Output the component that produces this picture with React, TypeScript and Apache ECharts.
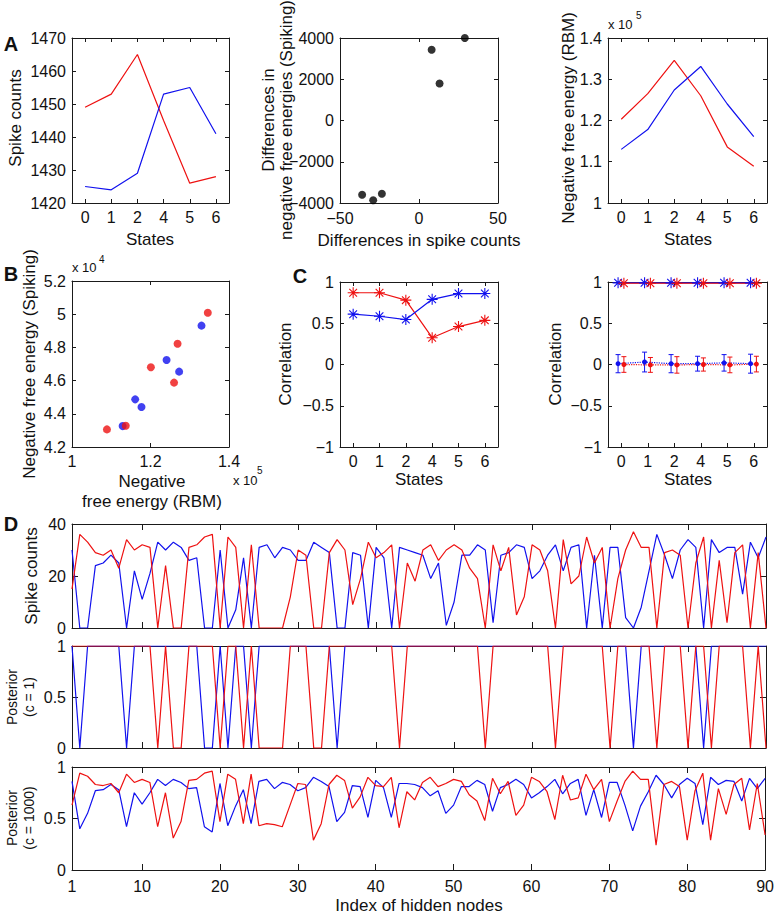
import React, { useEffect, useRef } from 'react';
import * as echarts from 'echarts';

const FONT = '"Liberation Sans", Arial, Helvetica, sans-serif';
const RED = '#ee1111';
const BLUE = '#1111ee';
const AXIS = '#1a1a1a';
const TEXT = '#111111';

// ---------- data ----------
const stateLabels = ['0', '1', '2', '4', '5', '6'];
const stateTicks = [0, 1, 2, 3, 4, 5];
const indexTicks = [1, 10, 20, 30, 40, 50, 60, 70, 80, 90];
const diffTicks = [-50, 0, 50];

// A1: spike counts per state
const a1Red = [1449, 1453, 1465, 1445, 1426, 1428];
const a1Blue = [1425, 1424, 1429, 1453, 1455, 1441];
// A2: differences
const a2X = [-36, -29, -23.5, 8, 13, 29];
const a2Y = [-3600, -3870, -3550, 3430, 1790, 4000];
// A3: negative free energy (RBM), x 10^5
const a3Red = [1.203, 1.265, 1.346, 1.26, 1.136, 1.089];
const a3Blue = [1.13, 1.178, 1.274, 1.331, 1.24, 1.161];
// B: RBM (x10^5) vs spiking (x10^4)
const bRedX = [1.089, 1.137, 1.201, 1.26, 1.269, 1.346];
const bRedY = [4.306, 4.328, 4.68, 4.588, 4.822, 5.009];
const bBlueX = [1.129, 1.161, 1.177, 1.241, 1.273, 1.33];
const bBlueY = [4.326, 4.487, 4.441, 4.724, 4.654, 4.931];
// C1: correlation
const c1Red = [0.87, 0.87, 0.78, 0.325, 0.46, 0.535];
const c1Blue = [0.61, 0.585, 0.545, 0.79, 0.86, 0.86];
// C2
const c2BlueStar = [0.99, 0.99, 0.99, 0.99, 0.99, 0.99];
const c2RedStar = [0.985, 0.985, 0.985, 0.985, 0.985, 0.985];
const c2BlueMean = [0.01, 0.03, 0.01, 0.01, 0.02, 0.01];
const c2BlueErr = [0.11, 0.12, 0.11, 0.09, 0.1, 0.115];
const c2RedMean = [0.0, -0.005, -0.005, 0.0, -0.005, 0.005];
const c2RedErr = [0.095, 0.09, 0.1, 0.08, 0.095, 0.095];

// D1: spike counts per hidden node
const d1Red = [
  15, 36, 33, 29, 28, 30, 23, 34, 30, 32,
  31, 0, 24, 0, 0, 31, 32, 35, 36, 0,
  35, 31, 0, 32, 0, 0, 0, 0, 12, 30,
  28, 0, 0, 29, 34, 30, 9, 19, 33, 27,
  29, 32, 0, 25, 18, 30, 32, 26, 30, 32,
  30, 23, 19, 0, 32, 22, 31, 5, 12, 32,
  30, 22, 0, 34, 17, 20, 35, 25, 31, 0,
  19, 30, 37, 31, 31, 0, 29, 30, 28, 0,
  25, 35, 0, 26, 2, 29, 32, 0, 29, 0,
];
const d1Blue = [
  30, 0, 0, 24, 25, 28, 25, 0, 22, 11,
  21, 33, 30, 33, 31, 26, 27, 0, 0, 30,
  0, 7, 27, 0, 31, 32, 27, 31, 30, 26,
  26, 33, 31, 29, 0, 0, 29, 28, 0, 31,
  27, 0, 31, 30, 29, 28, 19, 25, 1, 10,
  28, 28, 32, 30, 2, 28, 29, 32, 31, 19,
  22, 28, 32, 22, 31, 32, 0, 28, 0, 31,
  31, 4, 0, 8, 22, 36, 28, 19, 30, 34,
  31, 0, 34, 29, 31, 31, 13, 33, 27, 35,
];
// D2: posterior c = 1
const d2Red = [
  1, 1, 1, 1, 1, 1, 1, 1, 1, 1,
  1, 0, 1, 0, 0, 1, 1, 1, 1, 0,
  1, 1, 0, 1, 0, 0, 0, 0, 1, 1,
  1, 0, 0, 1, 1, 1, 1, 1, 1, 1,
  1, 1, 0, 1, 1, 1, 1, 1, 1, 1,
  1, 1, 1, 0, 1, 1, 1, 1, 1, 1,
  1, 1, 0, 1, 1, 1, 1, 1, 1, 0,
  1, 1, 1, 1, 1, 0, 1, 1, 1, 0,
  1, 1, 0, 1, 1, 1, 1, 0, 1, 0,
];
const d2Blue = [
  1, 0, 1, 1, 1, 1, 1, 0, 1, 1,
  1, 1, 1, 1, 1, 1, 1, 0, 0, 1,
  0, 1, 1, 0, 1, 1, 1, 1, 1, 1,
  1, 1, 1, 1, 0, 1, 1, 1, 1, 1,
  1, 1, 1, 1, 1, 1, 1, 1, 1, 1,
  1, 1, 1, 1, 1, 1, 1, 1, 1, 1,
  1, 1, 1, 1, 1, 1, 1, 1, 1, 1,
  1, 1, 0, 1, 1, 1, 1, 1, 1, 1,
  1, 0, 1, 1, 1, 1, 1, 1, 1, 1,
];
// D3: posterior c = 1000
const d3Red = [
  0.63, 0.94, 0.91, 0.83, 0.82, 0.84, 0.75, 0.93, 0.85, 0.88,
  0.85, 0.42, 0.75, 0.31, 0.47, 0.87, 0.88, 0.94, 0.96, 0.47,
  0.93, 0.88, 0.45, 0.93, 0.43, 0.45, 0.44, 0.42, 0.63, 0.84,
  0.83, 0.29, 0.45, 0.83, 0.92, 0.87, 0.6, 0.71, 0.9, 0.82,
  0.81, 0.9, 0.41, 0.76, 0.68, 0.85, 0.9, 0.81, 0.84, 0.88,
  0.86, 0.73, 0.67, 0.48, 0.89, 0.74, 0.86, 0.53, 0.63, 0.9,
  0.86, 0.76, 0.49, 0.92, 0.68, 0.7, 0.93, 0.78, 0.88, 0.47,
  0.67, 0.86, 0.96, 0.88, 0.88, 0.24, 0.83, 0.86, 0.81, 0.29,
  0.77, 0.94, 0.29, 0.79, 0.54, 0.83, 0.89, 0.39, 0.84, 0.34,
];
const d3Blue = [
  0.86, 0.4, 0.55, 0.77, 0.78, 0.83, 0.78, 0.42, 0.75, 0.64,
  0.75, 0.88, 0.82, 0.88, 0.85, 0.79, 0.8, 0.42, 0.37, 0.84,
  0.43, 0.62, 0.78, 0.45, 0.86, 0.88, 0.79, 0.85, 0.83, 0.77,
  0.8, 0.9, 0.86, 0.81, 0.47, 0.56, 0.82, 0.81, 0.51, 0.87,
  0.8, 0.51, 0.84, 0.84, 0.83, 0.8, 0.72, 0.77, 0.55, 0.63,
  0.81, 0.81, 0.87, 0.83, 0.57, 0.8, 0.83, 0.88, 0.83, 0.7,
  0.75, 0.81, 0.88, 0.74, 0.84, 0.88, 0.53, 0.78, 0.51, 0.85,
  0.85, 0.63, 0.38, 0.62, 0.76, 0.92, 0.83, 0.7, 0.83, 0.89,
  0.84, 0.44, 0.9, 0.83, 0.87, 0.86, 0.67, 0.89, 0.79, 0.89,
];

// ---------- helpers ----------
const ASTERISK = 'path://M5 0L5 10M0 5L10 5M1.5 1.5L8.5 8.5M1.5 8.5L8.5 1.5';

function fmtNum(v: number) {
  const s = String(Number(Number(v).toFixed(4)));
  return s.replace('-', '\u2212');
}

type Spec = {
  min: number;
  max: number;
  interval?: number;
  custom?: number[];
  fmt?: (v: number) => string;
  labels?: boolean;
  tick?: number;
  fontSize?: number;
  margin?: number;
};

function buildOption() {
  const grids: any[] = [];
  const xAxes: any[] = [];
  const yAxes: any[] = [];
  const series: any[] = [];

  const axis = (gi: number, spec: Spec, position: string, primary: boolean) => ({
    type: 'value',
    gridIndex: gi,
    position,
    min: spec.min,
    max: spec.max,
    ...(spec.interval !== undefined ? { interval: spec.interval } : {}),
    axisLine: { show: true, onZero: false, lineStyle: { color: AXIS, width: 1 } },
    axisTick: {
      show: true,
      inside: true,
      length: spec.tick ?? 4,
      lineStyle: { color: AXIS, width: 1 },
      ...(spec.custom ? { customValues: spec.custom } : {}),
    },
    axisLabel: {
      show: primary && spec.labels !== false,
      showMinLabel: true,
      showMaxLabel: true,
      hideOverlap: false,
      margin: spec.margin ?? 6,
      fontSize: spec.fontSize ?? 16,
      fontFamily: FONT,
      color: TEXT,
      formatter: spec.fmt ?? fmtNum,
      ...(spec.custom ? { customValues: spec.custom } : {}),
    },
    splitLine: { show: false },
  });

  const panel = (box: number[], xs: Spec, ys: Spec) => {
    const gi = grids.length;
    grids.push({ left: box[0], top: box[1], width: box[2], height: box[3], containLabel: false });
    xAxes.push(axis(gi, xs, 'bottom', true), axis(gi, xs, 'top', false));
    yAxes.push(axis(gi, ys, 'left', true), axis(gi, ys, 'right', false));
    return 2 * gi;
  };

  const line = (ai: number, data: number[][], color: string, extra: any = {}) => ({
    type: 'line',
    xAxisIndex: ai,
    yAxisIndex: ai,
    data,
    symbol: 'none',
    silent: true,
    lineStyle: { color, width: 1.2 },
    itemStyle: { color },
    ...extra,
  });
  const scatter = (ai: number, data: number[][], color: string) => ({
    type: 'scatter',
    xAxisIndex: ai,
    yAxisIndex: ai,
    data,
    symbol: 'circle',
    symbolSize: 8,
    silent: true,
    itemStyle: { color },
  });
  const stars = (color: string) => ({
    symbol: ASTERISK,
    symbolSize: 11,
    showSymbol: true,
    itemStyle: { color: 'transparent', borderColor: color, borderWidth: 1.1 },
  });
  const errBars = (ai: number, xs: number[], mean: number[], err: number[], color: string) => ({
    type: 'custom',
    xAxisIndex: ai,
    yAxisIndex: ai,
    silent: true,
    data: mean.map((m, i) => [xs[i], m - err[i], m + err[i]]),
    encode: { x: 0, y: [1, 2] },
    renderItem: (_p: any, api: any) => {
      const x = api.value(0);
      const lo = api.coord([x, api.value(1)]);
      const hi = api.coord([x, api.value(2)]);
      const c = 2.5;
      const st = { stroke: color, lineWidth: 1 };
      return {
        type: 'group',
        children: [
          { type: 'line', shape: { x1: lo[0], y1: lo[1], x2: hi[0], y2: hi[1] }, style: st },
          { type: 'line', shape: { x1: lo[0] - c, y1: lo[1], x2: lo[0] + c, y2: lo[1] }, style: st },
          { type: 'line', shape: { x1: hi[0] - c, y1: hi[1], x2: hi[0] + c, y2: hi[1] }, style: st },
        ],
      };
    },
  });

  const stateSpec: Spec = {
    min: -0.5,
    max: 5.5,
    custom: stateTicks,
    fmt: (v: number) => stateLabels[Math.round(v)] ?? '',
  };
  const pairs = (vals: number[], off = 0) => vals.map((v, i) => [i + off, v]);
  const xy = (xs: number[], ys: number[]) => xs.map((x, i) => [x, ys[i]]);
  const idx = (vals: number[]) => vals.map((v, i) => [i + 1, v]);

  // A1
  let ai = panel([72, 38, 157, 165], stateSpec, { min: 1420, max: 1470, interval: 10 });
  series.push(line(ai, pairs(a1Red), RED), line(ai, pairs(a1Blue), BLUE));
  // A2 (x tick labels drawn as texts below, aligned to the same scale)
  const a2Box = [340, 38, 158, 165];
  const a2XSpec: Spec = { min: -50, max: 50, custom: diffTicks };
  ai = panel(a2Box, { ...a2XSpec, labels: false }, { min: -4000, max: 4000, interval: 2000 });
  series.push(scatter(ai, xy(a2X, a2Y), '#000'));
  // A3
  ai = panel([608, 38, 159, 165], stateSpec, { min: 1, max: 1.4, interval: 0.1 });
  series.push(line(ai, pairs(a3Red), RED), line(ai, pairs(a3Blue), BLUE));
  // B
  ai = panel([72, 281, 157, 166], { min: 1, max: 1.4, interval: 0.2 }, { min: 4.2, max: 5.2, interval: 0.2 });
  series.push(scatter(ai, xy(bBlueX, bBlueY), BLUE), scatter(ai, xy(bRedX, bRedY), RED));
  // C1
  ai = panel([340, 282, 158, 165], stateSpec, { min: -1, max: 1, interval: 0.5 });
  series.push(
    line(ai, pairs(c1Red), RED, stars(RED)),
    line(ai, pairs(c1Blue), BLUE, stars(BLUE)),
  );
  // C2
  ai = panel([608, 282, 159, 165], stateSpec, { min: -1, max: 1, interval: 0.5 });
  const bOff = -0.12;
  const rOff = 0.1;
  series.push(
    line(ai, pairs(c2BlueMean, bOff), BLUE, {
      symbol: 'circle', symbolSize: 5, showSymbol: true,
      lineStyle: { color: BLUE, width: 1.2, type: 'dotted' },
    }),
    line(ai, pairs(c2RedMean, rOff), RED, {
      symbol: 'circle', symbolSize: 5, showSymbol: true,
      lineStyle: { color: RED, width: 1.2, type: 'dotted' },
    }),
    errBars(ai, stateTicks.map((s) => s + bOff), c2BlueMean, c2BlueErr, BLUE),
    errBars(ai, stateTicks.map((s) => s + rOff), c2RedMean, c2RedErr, RED),
    line(ai, pairs(c2BlueStar, bOff), BLUE, stars(BLUE)),
    line(ai, pairs(c2RedStar, rOff), RED, stars(RED)),
  );
  // D1
  const idxSpec: Spec = { min: 1, max: 90, custom: indexTicks, tick: 6, labels: false };
  ai = panel([72, 524, 694, 104], idxSpec, { min: 0, max: 40, interval: 20, tick: 6 });
  series.push(line(ai, idx(d1Blue), BLUE), line(ai, idx(d1Red), RED));
  // D2
  ai = panel([72, 646, 694, 102], idxSpec, { min: 0, max: 1, interval: 0.5, tick: 6 });
  series.push(line(ai, idx(d2Blue), BLUE), line(ai, idx(d2Red), RED));
  // D3
  ai = panel([72, 767, 694, 103], { ...idxSpec, labels: true, margin: 8 }, { min: 0, max: 1, interval: 0.5, tick: 6 });
  series.push(line(ai, idx(d3Blue), BLUE), line(ai, idx(d3Red), RED));

  const txt = (text: string, x: number, y: number, o: any = {}) => ({
    type: 'text',
    x,
    y,
    z: 100,
    rotation: o.rot ? Math.PI / 2 : 0,
    silent: true,
    style: {
      text,
      fontSize: o.size ?? 17,
      fontFamily: FONT,
      fontWeight: o.bold ? 'bold' : 'normal',
      fill: TEXT,
      align: o.align ?? 'center',
      verticalAlign: 'middle',
      ...(o.lh ? { lineHeight: o.lh } : {}),
    },
  });

  const a2TickTexts = diffTicks.map((v) =>
    txt(
      fmtNum(v),
      a2Box[0] + ((v - a2XSpec.min) / (a2XSpec.max - a2XSpec.min)) * a2Box[2],
      a2Box[1] + a2Box[3] + 15,
      { size: 16 },
    ),
  );

  const graphic = [
    txt('A', 11, 44, { bold: true, size: 20 }),
    txt('B', 11, 274, { bold: true, size: 20 }),
    txt('C', 300, 276, { bold: true, size: 20 }),
    txt('D', 11, 524, { bold: true, size: 20 }),
    txt('Spike counts', 15, 118, { rot: true }),
    txt('States', 150, 239),
    txt('Differences in\nnegative free energies (Spiking)', 277, 120, { rot: true, lh: 18 }),
    ...a2TickTexts,
    txt('Differences in spike counts', 419, 240),
    txt('Negative free energy (RBM)', 568, 118, { rot: true }),
    txt('States', 688, 239),
    txt('x 10', 608, 24, { size: 13, align: 'left' }),
    txt('5', 636, 15, { size: 10, align: 'left' }),
    txt('Negative free energy (Spiking)', 29, 364, { rot: true }),
    txt('x 10', 72, 267, { size: 13, align: 'left' }),
    txt('4', 99, 259, { size: 10, align: 'left' }),
    txt('Negative\nfree energy (RBM)', 152, 491, { lh: 20 }),
    txt('x 10', 233, 480, { size: 13, align: 'left' }),
    txt('5', 257, 470, { size: 10, align: 'left' }),
    txt('Correlation', 285, 364, { rot: true }),
    txt('States', 419, 479),
    txt('Correlation', 555, 364, { rot: true }),
    txt('States', 688, 479),
    txt('Spike counts', 31, 576, { rot: true }),
    txt('Posterior\n(c = 1)', 20, 697, { rot: true, size: 14, lh: 17 }),
    txt('Posterior\n(c = 1000)', 20, 818, { rot: true, size: 14, lh: 17 }),
    txt('Index of hidden nodes', 419, 905),
  ];

  return {
    animation: false,
    backgroundColor: '#ffffff',
    textStyle: { fontFamily: FONT },
    grid: grids,
    xAxis: xAxes,
    yAxis: yAxes,
    series,
    graphic,
  };
}

export default function App() {
  const ref = useRef<HTMLDivElement>(null);
  useEffect(() => {
    if (!ref.current) return;
    const chart = echarts.init(ref.current, undefined, { renderer: 'svg' });
    chart.setOption(buildOption() as any);
    return () => chart.dispose();
  }, []);
  return (
    <div
      ref={ref}
      style={{ position: 'absolute', left: 0, top: 0, width: 777, height: 915, background: '#fff' }}
    />
  );
}
